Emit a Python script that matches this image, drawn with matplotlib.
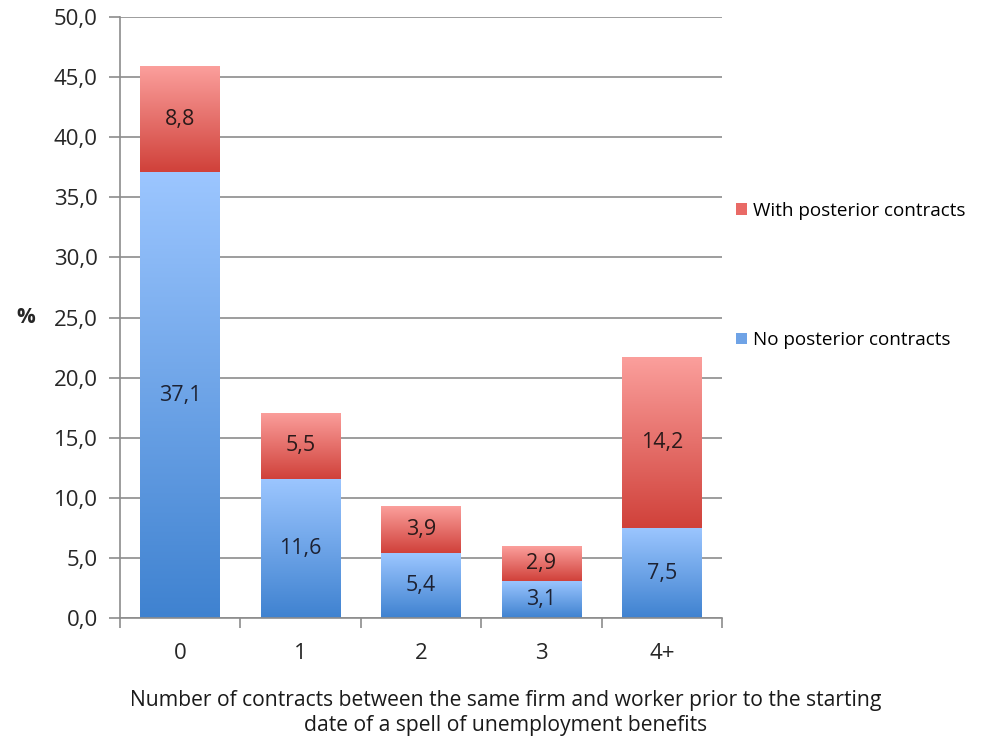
import matplotlib.pyplot as plt
import numpy as np
from matplotlib.colors import LinearSegmentedColormap
from matplotlib.patches import Patch

plt.rcParams['font.family'] = ['Open Sans', 'DejaVu Sans']

categories = ['0', '1', '2', '3', '4+']
no_posterior = [37.1, 11.6, 5.4, 3.1, 7.5]
with_posterior = [8.8, 5.5, 3.9, 2.9, 14.2]
no_labels = ['37,1', '11,6', '5,4', '3,1', '7,5']
with_labels = ['8,8', '5,5', '3,9', '2,9', '14,2']

blue_cmap = LinearSegmentedColormap.from_list('blue', ['#3f82d0', '#9cc6ff'])
red_cmap = LinearSegmentedColormap.from_list('red', ['#d0413a', '#fb9f9c'])

fig = plt.figure(figsize=(9.82, 7.42), dpi=100)
ax = fig.add_axes([0.1222, 0.167, 0.613, 0.810])

x = np.arange(len(categories))
bars_no = ax.bar(x, no_posterior, width=0.66, color='none', zorder=3)
bars_with = ax.bar(x, with_posterior, bottom=no_posterior, width=0.66, color='none', zorder=3)

# vertical gradient fill for every segment, clipped to the bar
grad = np.linspace(0, 1, 256).reshape(-1, 1)
for bars, cmap in ((bars_no, blue_cmap), (bars_with, red_cmap)):
    for p in bars:
        x0, y0 = p.get_x(), p.get_y()
        w, h = p.get_width(), p.get_height()
        im = ax.imshow(grad, cmap=cmap, origin='lower', aspect='auto',
                       extent=[x0, x0 + w, y0, y0 + h], zorder=2)
        im.set_clip_path(p)

for i in x:
    ax.text(i, no_posterior[i] / 2, no_labels[i], ha='center', va='center',
            fontsize=15.5, color='#1d2233', zorder=4)
    ax.text(i, no_posterior[i] + with_posterior[i] / 2, with_labels[i], ha='center',
            va='center', fontsize=15.5, color='#2a1a1a', zorder=4)

ax.set_xlim(-0.5, len(categories) - 0.5)
ax.set_ylim(0, 50)
ax.set_yticks(np.arange(0, 50.1, 5))
ax.set_yticklabels([f'{v:.1f}'.replace('.', ',') for v in np.arange(0, 50.1, 5)],
                   fontsize=16, color='#262626')
ax.yaxis.grid(True, color='#8c8c8c', linewidth=1.2, zorder=0)
ax.set_axisbelow(True)

ax.set_xticks(x)
ax.set_xticklabels(categories, fontsize=16, color='#262626')
ax.set_xticks(np.arange(-0.5, len(categories)), minor=True)
ax.tick_params(axis='x', which='major', length=0, pad=18)
ax.tick_params(axis='x', which='minor', length=7, color='#8c8c8c', width=1.2)
ax.tick_params(axis='y', length=8, color='#8c8c8c', width=1.2, pad=8)

for side in ('top', 'right'):
    ax.spines[side].set_visible(False)
for side in ('left', 'bottom'):
    ax.spines[side].set_color('#8c8c8c')
    ax.spines[side].set_linewidth(1.2)

ax.set_ylabel('%', rotation=0, fontsize=15, fontweight='bold', labelpad=20, va='center',
              color='#262626')

fig.text(0.515, 0.039, 'Number of contracts between the same firm and worker prior to the starting\n'
         'date of a spell of unemployment benefits', ha='center', va='center',
         fontsize=15.2, linespacing=1.3, color='#1a1a1a')

handles = [Patch(facecolor='#e96a66', label='With posterior contracts'),
           Patch(facecolor='#6fa3e6', label='No posterior contracts')]
fig.legend(handles=handles, loc='upper left', bbox_to_anchor=(0.740, 0.741), frameon=False,
           fontsize=13.6, handlelength=0.55, handleheight=0.55, handletextpad=0.35,
           labelspacing=5.9, borderpad=0)

fig.savefig('out.png', dpi=100)
